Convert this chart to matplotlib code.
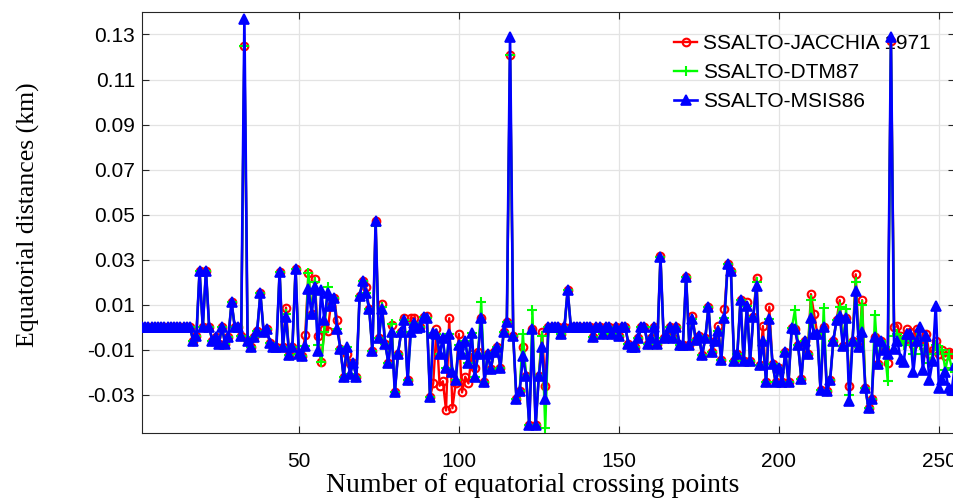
import numpy as np
import matplotlib
matplotlib.use("Agg")
import matplotlib.pyplot as plt

# equatorial distance differences (km) per crossing point
jacchia = [
    0, 0, 0, 0, 0, 0, 0, 0, 0, 0,
    0, 0, 0, 0, 0, 0, -0.006, -0.004, 0.025, 0.000,
    0.025, 0.000, -0.006, -0.0045, -0.0075, 0.000, -0.0075, -0.0045, 0.011, 0.000,
    0.000, -0.004, 0.125, -0.006, -0.009, -0.0045, -0.0015, 0.015, -0.002, -0.001,
    -0.007, -0.009, -0.009, 0.0245, -0.009, 0.0087, -0.0125, -0.009, 0.026, -0.012,
    -0.013, -0.0035, 0.024, 0.006, 0.0215, -0.004, -0.0155, -0.001, -0.0015, 0.0095,
    0.013, 0.003, -0.0095, -0.022, -0.012, -0.016, -0.016, -0.022, 0.014, 0.0205,
    0.018, 0.008, -0.0105, 0.047, -0.005, 0.0105, -0.0073, -0.016, 0.001, -0.029,
    -0.0117, -0.0022, 0.004, -0.0235, 0.004, 0.004, -0.0005, 0.000, 0.0045, 0.005,
    -0.031, -0.025, -0.001, -0.026, -0.024, -0.037, 0.004, -0.036, -0.025, -0.003,
    -0.029, -0.022, -0.025, -0.012, -0.018, -0.011, 0.004, -0.0245, -0.012, -0.0185,
    -0.011, -0.009, -0.018, -0.002, 0.0025, 0.121, -0.004, -0.032, -0.0285, -0.009,
    -0.0215, -0.0435, -0.001, -0.0435, -0.0215, -0.002, -0.026, 0, 0, 0,
    0, -0.003, 0, 0.0165, 0, 0, 0, 0, 0, 0,
    0, -0.0045, 0, 0, -0.003, 0, 0, -0.003, 0, -0.004,
    0, 0, -0.0075, -0.009, -0.009, -0.005, 0, 0, -0.0075, -0.005,
    0, -0.0075, 0.0315, -0.005, -0.004, 0, -0.005, 0, -0.008, -0.008,
    0.0225, -0.008, 0.005, -0.0055, -0.004, -0.0125, -0.005, 0.009, -0.011, -0.006,
    0.0005, -0.0145, 0.008, 0.028, 0.025, -0.015, -0.012, 0.012, -0.015, 0.011,
    -0.015, 0.0045, 0.022, -0.017, 0.0005, -0.0245, 0.009, -0.0165, -0.0245, -0.018,
    -0.0245, -0.011, -0.0245, -0.0005, -0.001, -0.008, -0.023, -0.006, -0.012, 0.0147,
    0.006, -0.003, -0.028, 0.000, -0.0285, -0.0235, -0.006, 0.003, 0.012, -0.0085,
    0.004, -0.026, -0.006, 0.0235, -0.009, 0.012, -0.027, -0.036, -0.032, -0.0045,
    -0.0165, -0.006, -0.010, -0.016, 0.127, 0.000, 0.0005, -0.004, -0.006, -0.001,
    -0.002, -0.008, -0.001, -0.003, -0.008, -0.003, -0.012, -0.010, -0.006, -0.012,
    -0.010, -0.013, -0.011, -0.012, -0.012,
]

dtm87 = [
    0, 0, 0, 0, 0, 0, 0, 0, 0, 0,
    0, 0, 0, 0, 0, 0, -0.006, -0.004, 0.025, 0.000,
    0.025, 0.000, -0.006, -0.0045, -0.0075, 0.000, -0.0075, -0.0045, 0.011, 0.000,
    0.000, -0.004, 0.125, -0.006, -0.009, -0.0045, -0.0015, 0.015, -0.002, -0.001,
    -0.007, -0.009, -0.009, 0.0245, -0.009, 0.006, -0.0125, -0.009, 0.026, -0.012,
    -0.013, -0.0085, 0.024, 0.006, 0.020, -0.008, -0.0155, -0.002, 0.018, 0.0095,
    0.013, -0.001, -0.0095, -0.022, -0.009, -0.021, -0.016, -0.022, 0.014, 0.0205,
    0.015, 0.008, -0.0105, 0.045, -0.005, 0.009, -0.0073, -0.016, 0.0016, -0.029,
    -0.0117, -0.0022, 0.003, -0.0235, -0.002, 0.002, -0.0005, 0.000, 0.0045, 0.004,
    -0.031, -0.0025, -0.003, -0.012, -0.005, -0.018, -0.003, -0.020, -0.0235, -0.008,
    -0.012, -0.006, -0.016, -0.0025, -0.022, -0.012, 0.011, -0.0245, -0.012, -0.0185,
    -0.011, -0.009, -0.018, -0.002, 0.0025, 0.121, -0.004, -0.032, -0.0285, -0.003,
    -0.0215, -0.0435, 0.0075, -0.0435, -0.0215, -0.004, -0.045, 0, 0, 0,
    0, -0.003, 0, 0.0165, 0, 0, 0, 0, 0, 0,
    0, -0.0045, 0, 0, -0.003, 0, 0, -0.003, 0, -0.004,
    0, 0, -0.0075, -0.009, -0.009, -0.005, 0, 0, -0.0075, -0.005,
    0, -0.0075, 0.031, -0.005, -0.004, 0, -0.005, 0, -0.008, -0.008,
    0.0225, -0.008, 0.0035, -0.0055, -0.004, -0.0125, -0.005, 0.009, -0.011, -0.006,
    -0.0015, -0.0145, 0.004, 0.028, 0.025, -0.015, -0.012, 0.012, -0.015, 0.0095,
    -0.015, 0.0045, 0.020, -0.017, -0.006, -0.0245, 0.0035, -0.0165, -0.0245, -0.018,
    -0.0245, -0.011, -0.0245, -0.0005, 0.0075, -0.008, -0.023, -0.006, -0.012, 0.012,
    -0.003, -0.003, -0.028, 0.0085, -0.0285, -0.0235, -0.006, 0.003, 0.009, -0.0085,
    0.008, -0.030, -0.006, 0.020, -0.009, 0.010, -0.027, -0.036, -0.032, 0.0055,
    -0.0165, -0.006, -0.009, -0.024, 0.127, -0.004, -0.003, -0.006, -0.008, -0.004,
    -0.006, -0.012, -0.005, -0.008, -0.012, -0.006, -0.016, -0.012, -0.008, -0.010,
    -0.010, -0.019, -0.012, -0.018, -0.020,
]

msis86 = [
    0, 0, 0, 0, 0, 0, 0, 0, 0, 0,
    0, 0, 0, 0, 0, 0, -0.006, -0.004, 0.025, 0.000,
    0.025, 0.000, -0.006, -0.0045, -0.0075, 0.000, -0.0075, -0.0045, 0.011, 0.000,
    0.000, -0.004, 0.137, -0.006, -0.009, -0.0045, -0.0015, 0.015, -0.002, -0.001,
    -0.007, -0.009, -0.009, 0.0245, -0.009, 0.0045, -0.0125, -0.009, 0.026, -0.012,
    -0.013, -0.0085, 0.017, 0.006, 0.018, -0.0105, 0.0165, 0.003, 0.015, 0.0095,
    0.013, -0.001, -0.0095, -0.022, -0.009, -0.021, -0.016, -0.022, 0.014, 0.0205,
    0.015, 0.008, -0.0105, 0.047, -0.005, 0.008, -0.0073, -0.016, -0.002, -0.029,
    -0.0117, -0.0022, 0.003, -0.0235, -0.002, 0.002, -0.0005, 0.000, 0.0045, 0.004,
    -0.031, -0.0025, -0.003, -0.012, -0.005, -0.018, -0.003, -0.020, -0.0235, -0.008,
    -0.012, -0.006, -0.016, -0.0025, -0.022, -0.012, 0.004, -0.0245, -0.012, -0.0185,
    -0.011, -0.009, -0.018, -0.002, 0.0025, 0.129, -0.004, -0.032, -0.0285, -0.013,
    -0.0215, -0.0435, -0.001, -0.0435, -0.0215, -0.009, -0.032, 0, 0, 0,
    0, -0.003, 0, 0.0165, 0, 0, 0, 0, 0, 0,
    0, -0.0045, 0, 0, -0.003, 0, 0, -0.003, 0, -0.004,
    0, 0, -0.0075, -0.009, -0.009, -0.005, 0, 0, -0.0075, -0.005,
    0, -0.0075, 0.031, -0.005, -0.004, 0, -0.005, 0, -0.008, -0.008,
    0.0225, -0.008, 0.0035, -0.0055, -0.004, -0.0125, -0.005, 0.009, -0.011, -0.006,
    -0.0015, -0.0145, 0.004, 0.028, 0.025, -0.015, -0.012, 0.012, -0.015, 0.0095,
    -0.015, 0.0045, 0.0185, -0.017, -0.006, -0.0245, 0.0035, -0.0165, -0.0245, -0.018,
    -0.0245, -0.011, -0.0245, -0.0005, -0.001, -0.008, -0.023, -0.006, -0.012, 0.004,
    -0.003, -0.003, -0.028, 0.000, -0.0285, -0.0235, -0.006, 0.003, 0.005, -0.0085,
    0.004, -0.033, -0.006, 0.016, -0.009, -0.002, -0.027, -0.036, -0.032, -0.0045,
    -0.0165, -0.006, -0.010, -0.012, 0.129, -0.0095, -0.006, -0.014, -0.0155, -0.003,
    -0.003, -0.020, -0.006, 0.000, -0.019, -0.004, -0.0235, -0.015, 0.0095, -0.027,
    -0.0235, -0.020, -0.027, -0.028, -0.017,
]

labels = ["SSALTO-JACCHIA 1971", "SSALTO-DTM87", "SSALTO-MSIS86"]
xticks = [50, 100, 150, 200, 250]
yticks = [-0.03, -0.01, 0.01, 0.03, 0.05, 0.07, 0.09, 0.11, 0.13]

x = np.arange(1, len(msis86) + 1)

fig = plt.figure(figsize=(9.54, 4.99), dpi=100)
ax = fig.add_axes([0.1488, 0.1323, 0.8522, 0.8437])

ax.plot(x, jacchia, "-o", color=(1, 0, 0), lw=1.7, ms=5.5, mfc="none", mew=1.5,
        label=labels[0], zorder=3)
ax.plot(x, dtm87, "-+", color=(0, 1, 0), lw=1.7, ms=6.5, mew=1.5,
        label=labels[1], zorder=4)
ax.plot(x, msis86, "-^", color=(0, 0, 1), lw=1.9, ms=7, mew=1.2,
        label=labels[2], zorder=5)

ax.set_xlim(1, 255)
ax.set_ylim(-0.047, 0.14)
ax.set_xticks(xticks)
ax.set_yticks(yticks)
ax.set_yticklabels(["%.2f" % v for v in yticks])

ax.grid(True, color="#e3e3e3", lw=0.9)
ax.set_axisbelow(True)
ax.tick_params(direction="in", top=True, right=True, length=5, width=0.8,
               labelsize=15, colors="#262626")
ax.tick_params(axis="x", pad=14)
ax.tick_params(axis="y", pad=5)
for lab in ax.get_xticklabels() + ax.get_yticklabels():
    lab.set_fontfamily("Liberation Sans")
    lab.set_color("black")
for s in ax.spines.values():
    s.set_color("#262626")
    s.set_linewidth(0.8)

ax.set_xlabel("Number of equatorial crossing points", fontfamily="Liberation Serif",
              fontsize=20)
ax.set_ylabel("Equatorial distances (km)", fontfamily="Liberation Serif",
              fontsize=18.5)
ax.xaxis.set_label_coords(0.48, -0.095)
ax.yaxis.set_label_coords(-0.126, 0.518)

leg = ax.legend(loc="upper left", bbox_to_anchor=(0.655, 0.948), frameon=False,
                prop={"family": "Liberation Sans", "size": 15}, borderpad=0,
                handlelength=1.1, handletextpad=0.25, labelspacing=0.48,
                borderaxespad=0)
leg.set_zorder(1)

fig.savefig("out.png", dpi=100)
